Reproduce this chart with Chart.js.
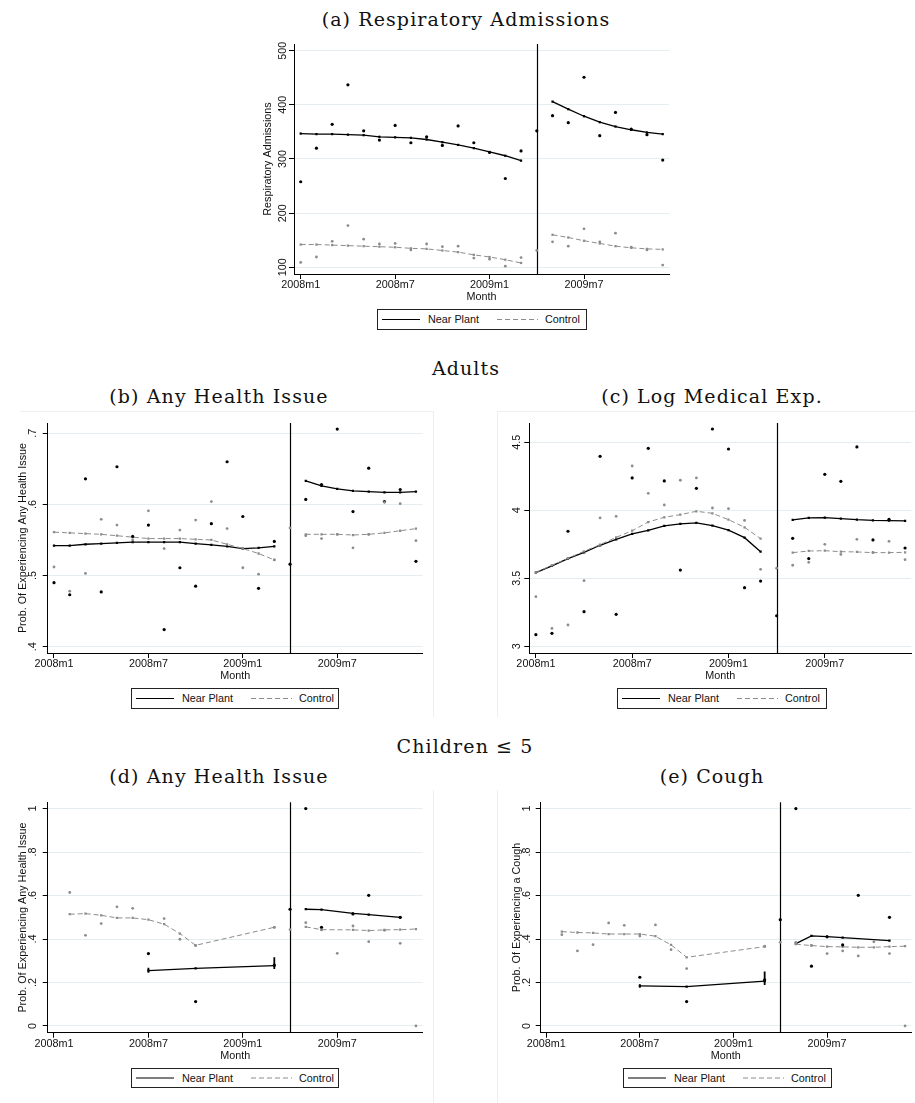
<!DOCTYPE html>
<html>
<head>
<meta charset="utf-8">
<script src="https://cdn.jsdelivr.net/npm/chart.js@4.4.1/dist/chart.umd.min.js"></script>
<style>
  body { margin: 0; background: #fff; width: 915px; height: 1103px; position: relative; overflow: hidden;
         font-family: "Liberation Sans", Arial, sans-serif; }
  .ttl { position: absolute; font-family: "DejaVu Serif", serif; font-size: 19px; line-height: 20px;
         white-space: nowrap; transform: translateX(-50%); color: #111; letter-spacing: 1.1px; }
  canvas { position: absolute; }
  .leg { position: absolute; border: 1px solid #222; box-sizing: border-box; font-size: 10.8px; color: #111; }
  .leg span { position: absolute; top: 0; white-space: nowrap; }
  .leg svg { position: absolute; top: 0; }
  .frame { position: absolute; border: 0 solid #eeeeee; box-sizing: border-box; }
</style>
</head>
<body>

<div class="ttl" style="left:466px;top:9px">(a) Respiratory Admissions</div>
<div class="ttl" style="left:466px;top:358px">Adults</div>
<div class="ttl" style="left:219px;top:386px">(b) Any Health Issue</div>
<div class="ttl" style="left:712px;top:386px">(c) Log Medical Exp.</div>
<div class="ttl" style="left:465px;top:736px">Children ≤ 5</div>
<div class="ttl" style="left:219px;top:766px">(d) Any Health Issue</div>
<div class="ttl" style="left:712px;top:766px">(e) Cough</div>

<div class="frame" style="left:20px;top:411px;width:414px;height:306px;border-top-width:1px;border-right-width:1px"></div>
<div class="frame" style="left:497px;top:411px;width:418px;height:306px;border-top-width:1px;border-left-width:1px"></div>
<div class="frame" style="left:0;top:790px;width:434px;height:313px;border-right-width:1px"></div>
<div class="frame" style="left:497px;top:790px;width:418px;height:313px;border-left-width:1px"></div>

<canvas id="chartA"></canvas>
<canvas id="chartB"></canvas>
<canvas id="chartC"></canvas>
<canvas id="chartD"></canvas>
<canvas id="chartE"></canvas>

<script>
// months on the x axis, 2008m1 .. 2009m12 (index = month number)
const months = ['2008m1','2008m2','2008m3','2008m4','2008m5','2008m6','2008m7','2008m8','2008m9','2008m10','2008m11','2008m12',
                '2009m1','2009m2','2009m3','2009m4','2009m5','2009m6','2009m7','2009m8','2009m9','2009m10','2009m11','2009m12'];
const xTickMonths = [0, 6, 12, 18];
const breakMonth = 15;   // plant opening, 2009m4
const seriesNames = ['Near Plant', 'Control'];

// (a) respiratory admissions
const aNearRaw = [258, 320, 364, 437, 352, 335, 362, 330, 341, 325, 361, 330, 312, 264, 315, 352, 380, 367, 451, 343, 386, 355, 345, 298];
const aCtrlRaw = [109, 119, 148, 177, 152, 143, 144, 132, 143, 138, 139, 117, 115, 102, 118, 131, 147, 139, 171, 147, 163, 137, 132, 104];
const aNearFit = [347, 346, 346, 345, 344, 341, 340, 339, 336, 331, 326, 320, 313, 306, 297, null, 406, 392, 379, 368, 360, 354, 349, 346];
const aCtrlFit = [142, 142, 141, 140, 139, 138, 137, 135, 134, 131, 128, 123, 119, 114, 108, null, 160, 155, 149, 144, 139, 136, 134, 133];
const aYTicks = [100, 200, 300, 400, 500];
const aYLabels = ['100', '200', '300', '400', '500'];

// (b) adults, any health issue
const bNearRaw = [0.490, 0.473, 0.636, 0.477, 0.653, 0.555, 0.571, 0.424, 0.511, 0.485, 0.573, 0.660, 0.583, 0.482, 0.548, 0.516,
                  0.607, 0.628, 0.706, 0.590, 0.651, 0.604, 0.621, 0.520];
const bCtrlRaw = [0.512, 0.478, 0.503, 0.579, 0.571, 0.550, 0.591, 0.538, 0.564, 0.578, 0.604, 0.566, 0.511, 0.502, 0.522, 0.567,
                  0.556, 0.552, 0.558, 0.539, 0.558, 0.603, 0.601, 0.549];
const bNearFit = [0.542, 0.542, 0.544, 0.545, 0.546, 0.547, 0.547, 0.547, 0.547, 0.545, 0.543, 0.541, 0.538, 0.539, 0.541, null,
                  0.633, 0.626, 0.622, 0.619, 0.618, 0.617, 0.617, 0.618];
const bCtrlFit = [0.561, 0.560, 0.559, 0.558, 0.556, 0.554, 0.552, 0.552, 0.552, 0.551, 0.550, 0.544, 0.538, 0.531, 0.522, null,
                  0.558, 0.558, 0.558, 0.557, 0.558, 0.560, 0.563, 0.566];
const bYTicks = [0.4, 0.5, 0.6, 0.7];
const bYLabels = ['.4', '.5', '.6', '.7'];

// (c) adults, log medical expenditure
const cNearRaw = [3.086, 3.096, 3.846, 3.255, 4.397, 3.235, 4.238, 4.456, 4.216, 3.561, 4.162, 4.598, 4.451, 3.431, 3.480, 3.225,
                  3.794, 3.645, 4.265, 4.213, 4.466, 3.782, 3.934, 3.723];
const cCtrlRaw = [3.365, 3.132, 3.157, 3.483, 3.944, 3.956, 4.326, 4.125, 4.039, 4.221, 4.238, 4.017, 4.012, 3.926, 3.566, 3.574,
                  3.596, 3.618, 3.750, 3.676, 3.787, 3.690, 3.772, 3.637];
const cNearFit = [3.542, 3.591, 3.645, 3.691, 3.743, 3.787, 3.826, 3.853, 3.885, 3.900, 3.907, 3.887, 3.855, 3.799, 3.696, null,
                  3.929, 3.944, 3.946, 3.939, 3.931, 3.926, 3.924, 3.922];
const cCtrlFit = [3.542, 3.596, 3.647, 3.699, 3.748, 3.801, 3.850, 3.914, 3.949, 3.968, 3.993, 3.978, 3.931, 3.875, 3.792, null,
                  3.689, 3.701, 3.703, 3.696, 3.694, 3.689, 3.689, 3.691];
const cYTicks = [3, 3.5, 4, 4.5];
const cYLabels = ['3', '3.5', '4', '4.5'];

// (d) children under 5, any health issue
const dNearRaw = [null, null, null, null, null, null, 0.333, null, null, 0.112, null, null, null, null, 0.280, 0.537,
                  1.000, 0.454, null, 0.515, 0.601, null, 0.500, null];
const dCtrlRaw = [null, 0.614, 0.417, 0.471, 0.548, 0.541, null, 0.494, 0.399, 0.370, null, null, null, null, 0.454, 0.443,
                  0.475, 0.442, 0.334, 0.460, 0.388, 0.440, 0.380, 0.000];
const dNearFit = [null, null, null, null, null, null, 0.255, null, null, 0.265, null, null, null, null, 0.278, null,
                  0.537, 0.535, null, 0.518, 0.512, null, 0.500, null];
const dCtrlFit = [null, 0.514, 0.517, 0.509, 0.497, 0.497, 0.489, 0.468, 0.425, 0.371, null, null, null, null, 0.454, null,
                  0.456, 0.443, null, 0.442, 0.439, 0.442, 0.443, 0.446];
const dNearBands = [[6, 0.245, 0.268], [14, 0.262, 0.316]];

// (e) children under 5, cough
const eNearRaw = [null, null, null, null, null, null, 0.224, null, null, 0.112, null, null, null, null, 0.212, 0.489,
                  1.000, 0.275, 0.410, 0.373, 0.601, null, 0.500, null];
const eCtrlRaw = [null, 0.420, 0.345, 0.374, 0.474, 0.463, 0.414, 0.465, 0.351, 0.264, null, null, null, null, 0.367, 0.385,
                  0.385, 0.371, 0.333, 0.345, 0.322, 0.387, 0.333, 0.000];
const eNearFit = [null, null, null, null, null, null, 0.184, null, null, 0.181, null, null, null, null, 0.206, null,
                  0.379, 0.414, 0.411, 0.406, null, null, 0.393, null];
const eCtrlFit = [null, 0.434, 0.430, 0.428, 0.423, 0.423, 0.423, 0.413, 0.373, 0.316, null, null, null, null, 0.365, null,
                  0.376, 0.370, 0.365, 0.364, 0.362, 0.362, 0.365, 0.367];
const eNearBands = [[6, 0.176, 0.192], [14, 0.189, 0.250]];

const kidYTicks = [0, 0.2, 0.4, 0.6, 0.8, 1];
const kidYLabels = ['0', '.2', '.4', '.6', '.8', '1'];

const nearColor = '#000000';
const ctrlColor = '#8c8c8c';
const gridColor = '#e4eef0';
const axisFont = { family: '"Liberation Sans", Arial, sans-serif', size: 10.8 };

// raw points: keep every month that has a value
function rawPoints(arr) {
  return arr.map((v, i) => ({ x: i, y: v })).filter(p => p.y !== null);
}
// fitted line: skip empty months but break the line at the opening month
function fitPoints(arr) {
  return arr.map((v, i) => ({ x: i, y: v })).filter(p => p.y !== null || p.x === breakMonth);
}

const panelPlugin = {
  id: 'panelExtras',
  beforeDatasetsDraw(chart) {
    const { ctx, chartArea, scales } = chart;
    const x = Math.round(scales.x.getPixelForValue(breakMonth)) + 0.5;
    ctx.save();
    ctx.strokeStyle = '#000';
    ctx.lineWidth = 1.2;
    ctx.beginPath();
    ctx.moveTo(x, chartArea.top);
    ctx.lineTo(x, chartArea.bottom);
    ctx.stroke();
    ctx.restore();
  },
  afterDraw(chart, args, opts) {
    // vertical tick labels on the y axis
    const { ctx, scales } = chart;
    ctx.save();
    ctx.fillStyle = '#111';
    ctx.font = axisFont.size + 'px ' + axisFont.family;
    ctx.textAlign = 'center';
    ctx.textBaseline = 'middle';
    opts.ticks.forEach((v, i) => {
      const py = scales.y.getPixelForValue(v);
      ctx.save();
      ctx.translate(opts.labelX, py);
      ctx.rotate(-Math.PI / 2);
      ctx.fillText(opts.labels[i], 0, 0);
      ctx.restore();
    });
    ctx.restore();
  }
};

function makeLegend(left, top, width, height) {
  const d = document.createElement('div');
  d.className = 'leg';
  d.style.left = left + 'px';
  d.style.top = top + 'px';
  d.style.width = width + 'px';
  d.style.height = height + 'px';
  const mid = (height - 2) / 2;
  d.innerHTML =
    '<svg style="left:4px" width="38" height="' + (height - 2) + '"><line x1="0" x2="38" y1="' + mid + '" y2="' + mid +
    '" stroke="' + nearColor + '" stroke-width="1.2"/></svg>' +
    '<span style="left:50px;line-height:' + (height - 2) + 'px">' + seriesNames[0] + '</span>' +
    '<svg style="left:119px" width="41" height="' + (height - 2) + '"><line x1="0" x2="41" y1="' + mid + '" y2="' + mid +
    '" stroke="' + ctrlColor + '" stroke-width="1" stroke-dasharray="5,3"/></svg>' +
    '<span style="left:167px;line-height:' + (height - 2) + 'px">' + seriesNames[1] + '</span>';
  document.body.appendChild(d);
}

function makePanel(id, p) {
  const cv = document.getElementById(id);
  cv.width = p.box.width;
  cv.height = p.box.height;
  cv.style.left = p.box.left + 'px';
  cv.style.top = p.box.top + 'px';
  const xAxisH = 29.5;
  const yAxisW = p.plot.left - p.box.left;
  const titleLH = axisFont.size * 1.2;

  const datasets = [
    { type: 'scatter', data: rawPoints(p.ctrlRaw), pointRadius: 1.4, pointBackgroundColor: ctrlColor, pointBorderWidth: 0 },
    { type: 'scatter', data: rawPoints(p.nearRaw), pointRadius: 1.6, pointBackgroundColor: nearColor, pointBorderWidth: 0 },
    { type: 'line', data: fitPoints(p.ctrlFit), borderColor: ctrlColor, borderWidth: 1, borderDash: [5, 3],
      pointStyle: 'rect', pointRadius: 1.6, pointBackgroundColor: ctrlColor, pointBorderWidth: 0, spanGaps: false, tension: 0 },
    { type: 'line', data: fitPoints(p.nearFit), borderColor: nearColor, borderWidth: 1.3,
      pointStyle: 'rect', pointRadius: 1.6, pointBackgroundColor: nearColor, pointBorderWidth: 0, spanGaps: false, tension: 0 }
  ];
  (p.bands || []).forEach(b => {
    datasets.push({ type: 'line', data: [{ x: b[0], y: b[1] }, { x: b[0], y: b[2] }], borderColor: nearColor,
                    borderWidth: 1.8, pointRadius: 0 });
  });

  new Chart(cv, {
    data: { datasets },
    options: {
      responsive: false,
      animation: false,
      events: [],
      layout: {
        padding: {
          left: 0,
          top: p.plot.top - p.box.top,
          right: p.box.left + p.box.width - p.plot.right,
          bottom: p.box.top + p.box.height - p.plot.bottom - xAxisH
        }
      },
      plugins: {
        legend: { display: false },
        tooltip: { enabled: false },
        panelExtras: { ticks: p.yTicks, labels: p.yLabels, labelX: p.yLabelX - p.box.left }
      },
      scales: {
        x: {
          type: 'linear',
          min: p.xMin,
          max: p.xMax,
          afterBuildTicks: s => { s.ticks = xTickMonths.map(v => ({ value: v })); },
          afterFit: s => { s.height = xAxisH; },
          ticks: {
            autoSkip: false, maxRotation: 0, minRotation: 0, padding: 1, color: '#111',
            font: Object.assign({ lineHeight: 1 }, axisFont),
            callback: v => months[v]
          },
          grid: { drawOnChartArea: false, tickColor: '#000', tickLength: 5 },
          border: { color: '#000', width: 1 },
          title: { display: true, text: 'Month', color: '#111', font: axisFont, padding: 0 }
        },
        y: {
          type: 'linear',
          min: p.yMin,
          max: p.yMax,
          afterBuildTicks: s => { s.ticks = p.yTicks.map(v => ({ value: v })); },
          afterFit: s => { s.width = yAxisW; },
          ticks: { display: false },
          grid: { color: gridColor, tickColor: '#000', tickLength: 5 },
          border: { color: '#000', width: 1 },
          title: {
            display: !!p.yTitle, text: p.yTitle || '', color: '#111', font: axisFont,
            padding: { top: p.yTitleX ? p.yTitleX - p.box.left - titleLH / 2 : 0, bottom: 0 }
          }
        }
      }
    },
    plugins: [panelPlugin]
  });
}

makePanel('chartA', {
  box: { left: 250, top: 36, width: 430, height: 272 },
  plot: { left: 294, top: 44, right: 669, bottom: 274 },
  xMin: -0.426, xMax: 23.4, yMin: 87.6, yMax: 512.4,
  nearRaw: aNearRaw, ctrlRaw: aCtrlRaw, nearFit: aNearFit, ctrlFit: aCtrlFit,
  yTicks: aYTicks, yLabels: aYLabels, yTitle: 'Respiratory Admissions', yTitleX: 268, yLabelX: 283
});
makePanel('chartB', {
  box: { left: 0, top: 415, width: 440, height: 272 },
  plot: { left: 47.7, top: 423, right: 422.7, bottom: 653 },
  xMin: -0.4, xMax: 23.43, yMin: 0.3911, yMax: 0.7145,
  nearRaw: bNearRaw, ctrlRaw: bCtrlRaw, nearFit: bNearFit, ctrlFit: bCtrlFit,
  yTicks: bYTicks, yLabels: bYLabels, yTitle: 'Prob. Of Experiencing Any Health Issue', yTitleX: 23.3, yLabelX: 33.3
});
makePanel('chartC', {
  box: { left: 480, top: 415, width: 435, height: 272 },
  plot: { left: 529.3, top: 423, right: 915, bottom: 653 },
  xMin: -0.41, xMax: 23.37, yMin: 2.951, yMax: 4.642,
  nearRaw: cNearRaw, ctrlRaw: cCtrlRaw, nearFit: cNearFit, ctrlFit: cCtrlFit,
  yTicks: cYTicks, yLabels: cYLabels, yLabelX: 516.7
});
makePanel('chartD', {
  box: { left: 0, top: 794, width: 440, height: 272 },
  plot: { left: 47.7, top: 802.3, right: 422.7, bottom: 1032.7 },
  xMin: -0.4, xMax: 23.43, yMin: -0.031, yMax: 1.029,
  nearRaw: dNearRaw, ctrlRaw: dCtrlRaw, nearFit: dNearFit, ctrlFit: dCtrlFit, bands: dNearBands,
  yTicks: kidYTicks, yLabels: kidYLabels, yTitle: 'Prob. Of Experiencing Any Health Issue', yTitleX: 23.3, yLabelX: 33.3
});
makePanel('chartE', {
  box: { left: 480, top: 794, width: 435, height: 272 },
  plot: { left: 540.7, top: 802.3, right: 915, bottom: 1032.7 },
  xMin: -0.355, xMax: 23.38, yMin: -0.031, yMax: 1.029,
  nearRaw: eNearRaw, ctrlRaw: eCtrlRaw, nearFit: eNearFit, ctrlFit: eCtrlFit, bands: eNearBands,
  yTicks: kidYTicks, yLabels: kidYLabels, yTitle: 'Prob. Of Experiencing a Cough', yTitleX: 516.7, yLabelX: 526.7
});

makeLegend(377, 309, 210, 21);
makeLegend(131, 688, 208, 21);
makeLegend(617, 688, 210, 21);
makeLegend(131, 1068, 208, 20);
makeLegend(623, 1068, 209, 20);
</script>
</body>
</html>
